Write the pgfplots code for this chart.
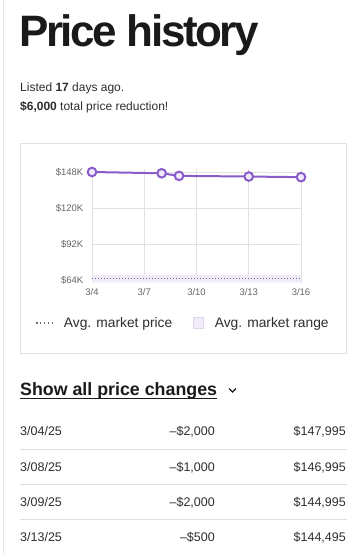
\documentclass[border=0pt]{standalone}
\usepackage{fontspec}
\setmainfont{Liberation Sans}
\usepackage{pgfplots}
\pgfplotsset{compat=1.18}
\definecolor{titlecol}{HTML}{1A1A1A}
\definecolor{textcol}{HTML}{2E2E2E}
\definecolor{boxcol}{HTML}{E2E2E2}
\definecolor{pagegray}{HTML}{E6E6E6}
\definecolor{sepcol}{HTML}{DEDEDE}
\definecolor{gridcol}{HTML}{E2E2E2}
\definecolor{tickcol}{HTML}{666666}
\definecolor{linecol}{HTML}{8A5CCB}
\definecolor{markfill}{HTML}{F1E9FC}
\definecolor{bandcol}{HTML}{F1EBFA}
\definecolor{bandborder}{HTML}{DCD6E6}
\definecolor{dotcol}{HTML}{6E6784}
\tikzset{rowtxt/.style={inner sep=0, text=textcol, font=\fontsize{12.5}{14}\selectfont}}
\begin{document}
\begin{tikzpicture}
\useasboundingbox[fill=white] (0,0) rectangle (363pt,-555pt);
\fill[pagegray] (2.5pt,0) rectangle (4pt,-555pt);
\begin{scope}[x=1pt,y=-1pt]
\node[anchor=base west, inner sep=0, text=titlecol, font=\fontsize{44}{50}\selectfont\bfseries\addfontfeature{LetterSpace=-5.5}] at (19,46) {Price history};
\node[anchor=base west, inner sep=0, text=textcol, font=\fontsize{12}{14}\selectfont] at (20,91) {Listed \textbf{17} days ago.};
\node[anchor=base west, inner sep=0, text=textcol, font=\fontsize{12}{14}\selectfont] at (20,110) {\textbf{\$6,000} total price reduction!};
\draw[boxcol, line width=0.8pt] (20.5,143.5) rectangle (346,353.5);
% show all price changes
\node[anchor=base west, inner sep=0, text=titlecol, font=\fontsize{17.8}{20}\selectfont\bfseries] at (20,395) {Show all price changes};
\draw[titlecol, line width=1.1pt] (20,398.6) -- (217,398.6);
\draw[titlecol, line width=1.1pt] (229,388.5) -- (232.5,392) -- (236,388.5);
% table
\node[rowtxt, anchor=base west] at (20,435) {3/04/25};
\node[rowtxt, anchor=base east] at (215,435) {--\$2,000};
\node[rowtxt, anchor=base east] at (346,435) {\$147,995};
\node[rowtxt, anchor=base west] at (20,471) {3/08/25};
\node[rowtxt, anchor=base east] at (215,471) {--\$1,000};
\node[rowtxt, anchor=base east] at (346,471) {\$146,995};
\node[rowtxt, anchor=base west] at (20,506) {3/09/25};
\node[rowtxt, anchor=base east] at (215,506) {--\$2,000};
\node[rowtxt, anchor=base east] at (346,506) {\$144,995};
\node[rowtxt, anchor=base west] at (20,541) {3/13/25};
\node[rowtxt, anchor=base east] at (215,541) {--\$500};
\node[rowtxt, anchor=base east] at (346,541) {\$144,495};
\draw[sepcol, line width=0.8pt] (20,449.5) -- (346.5,449.5);
\draw[sepcol, line width=0.8pt] (20,484.5) -- (346.5,484.5);
\draw[sepcol, line width=0.8pt] (20,519.5) -- (346.5,519.5);
\end{scope}
\begin{axis}[
  at={(92pt,-283.2pt)}, anchor=south west,
  scale only axis, width=209pt, height=113.8pt,
  xmin=4, xmax=16, ymin=62, ymax=150,
  xtick={4,7,10,13,16}, xticklabels={3/4,3/7,3/10,3/13,3/16},
  ytick={64,92,120,148}, yticklabels={\$64K,\$92K,\$120K,\$148K},
  axis line style={draw=none},
  major tick style={draw=none},
  grid=major, grid style={draw=gridcol, line width=0.8pt},
  ticklabel style={font=\fontsize{9.5}{11}\selectfont, text=tickcol, inner sep=0pt},
  yticklabel style={xshift=-8.5pt},
  xticklabel style={yshift=-5pt},
  clip=false,
  legend columns=2,
  legend style={draw=none, fill=none, at={(0.436,-0.35)}, anchor=center,
    font=\fontsize{13.8}{16}\selectfont, text=textcol, inner sep=0pt,
    /tikz/every even column/.append style={column sep=19pt},
    /tikz/every odd column/.append style={column sep=9pt}},
  legend cell align=left,
]
\addplot[fill=bandcol, draw=none, forget plot] coordinates {(4,62.7) (16,62.7) (16,68.4) (4,68.4) (4,62.7)};
\addplot[dotcol, line width=1.4pt, dash pattern=on 1.4pt off 1.6pt,
  legend image code/.code={\draw[dotcol, line width=1.3pt, dash pattern=on 1.3pt off 2.6pt] (0pt,0pt) -- (16pt,0pt);}]
  coordinates {(4,65.5) (16,65.5)};
\addlegendentry{Avg. market price}
\addlegendimage{legend image code/.code={\draw[fill=bandcol, draw=bandborder, line width=0.5pt, solid] (0pt,-5pt) rectangle (10pt,5.5pt);}}
\addlegendentry{Avg. market range}
\addplot[linecol, line width=2pt, mark=*, mark size=4.3pt,
  mark options={fill=markfill, draw=linecol, line width=2pt}, forget plot]
  coordinates {(4,147.995) (8,146.995) (9,144.995) (13,144.495) (16,143.995)};
\end{axis}
\end{tikzpicture}
\end{document}
